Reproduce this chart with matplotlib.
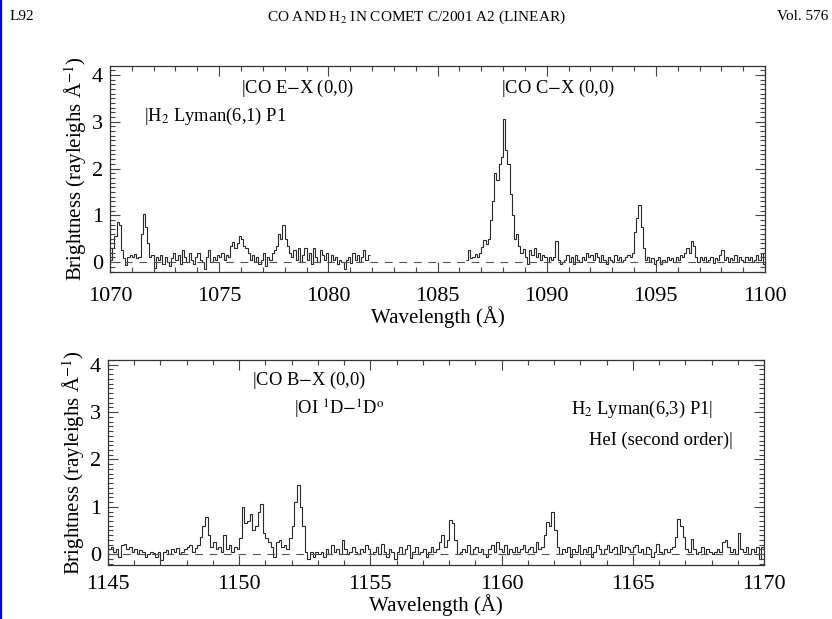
import matplotlib
matplotlib.use('Agg')
import numpy as np
import matplotlib.pyplot as plt
from matplotlib.ticker import MultipleLocator
from matplotlib.lines import Line2D

plt.rcParams['font.family'] = ['Liberation Serif', 'DejaVu Serif']
plt.rcParams['mathtext.fontset'] = 'stix'

BIN = 0.1  # Angstrom per spectral bin

# upper panel, first detector segment (1070.0 - 1081.9 A)
seg1_start = 1070.0
seg1_flux = [
    0.05, 0.3, 0.55, 0.85, 0.8, 0.25, 0.08, -0.06, 0.1, 0.15,
    0.12, 0.18, 0.08, 0.12, 0.6, 1.02, 0.75, 0.4, 0.1, 0.15,
    -0.12, 0.1, 0.05, 0.15, -0.05, 0.1, 0.0, -0.08, 0.08, 0.2,
    0.05, 0.15, -0.05, 0.25, 0.1, 0.0, 0.2, 0.05, -0.05, 0.1,
    0.2, 0.05, 0.0, -0.15, 0.1, 0.25, 0.0, 0.1, 0.05, 0.15,
    0.1, 0.2, 0.05, 0.15, 0.1, 0.35, 0.42, 0.3, 0.4, 0.55,
    0.5, 0.35, 0.3, 0.2, 0.05, 0.15, 0.0, 0.1, -0.05, 0.05,
    0.2, -0.08, 0.1, 0.05, 0.2, 0.25, 0.35, 0.6, 0.5, 0.8,
    0.5, 0.35, 0.2, 0.1, 0.25, 0.05, 0.3, 0.0, 0.15, 0.3,
    0.05, 0.2, -0.05, 0.3, 0.1, 0.0, 0.25, 0.15, 0.05, 0.2,
    0.0, 0.15, 0.05, 0.1, -0.05, 0.05, 0.0, -0.15, 0.05, 0.1,
    -0.02, 0.2, 0.05, 0.15, 0.0, 0.1, 0.25, 0.05, 0.15,
]

# upper panel, second segment (1086.3 - 1100.0 A)
seg2_start = 1086.3
seg2_flux = [
    0.05, 0.25, 0.08, 0.12, 0.18, 0.12, 0.2,
    0.32, 0.48, 0.38, 0.5, 0.9, 1.3, 1.9, 1.75, 2.1, 2.25,
    3.05, 2.4, 2.1, 1.45, 1.0, 0.5, 0.6, 0.35, 0.2, 0.28,
    0.1, -0.05, 0.25, 0.15, 0.3, 0.1, 0.2, 0.05, 0.15, 0.1,
    0.0, 0.1, 0.05, 0.1, 0.45, 0.05, -0.05, 0.0, 0.05, 0.15,
    0.0, 0.1, -0.03, 0.15, 0.05, 0.0, 0.1, 0.05, 0.2, 0.1,
    0.15, 0.05, 0.2, 0.1, 0.0, 0.15, 0.05, -0.03, 0.1, 0.05,
    0.0, 0.15, 0.05, 0.1, 0.0, 0.05, 0.1, 0.15, 0.1, 0.2,
    0.65, 0.95, 1.22, 0.75, 0.3, 0.05, 0.1, 0.0, 0.08, -0.05,
    0.05, 0.1, -0.05, 0.05, 0.0, 0.1, 0.05, 0.08, 0.0, 0.1,
    0.05, 0.15, 0.1, 0.2, 0.3, 0.2, 0.45, 0.35, 0.1, 0.0,
    0.1, 0.05, 0.12, 0.0, 0.05, 0.1, -0.02, 0.08, 0.05, 0.15,
    0.25, 0.05, 0.1, 0.0, 0.08, 0.05, 0.15, 0.0, 0.1, 0.05,
    0.0, 0.1, 0.05, 0.12, 0.0, 0.05, 0.15, 0.05, 0.2, -0.05,
]

# lower panel (1145.0 - 1170.0 A)
seg3_start = 1145.0
seg3_flux = [
    0.1, 0.15, 0.05, 0.1, -0.05, 0.2, 0.22, 0.1, 0.15, 0.05,
    0.1, 0.0, 0.08, 0.05, -0.05, 0.0, 0.05, 0.02, -0.05, 0.05,
    -0.12, 0.05, 0.08, 0.0, 0.1, 0.05, 0.12, 0.0, 0.05, 0.1,
    0.15, 0.2, 0.05, 0.12, 0.2, 0.37, 0.6, 0.78, 0.4, 0.15,
    0.25, 0.1, 0.15, 0.05, 0.4, 0.1, 0.2, 0.05, 0.15, 0.1,
    0.35, 1.0, 0.65, 0.7, 0.85, 0.5, 0.6, 0.9, 1.05, 0.45,
    0.35, 0.25, 0.15, -0.05, 0.25, 0.3, 0.15, 0.2, 0.1, 0.35,
    0.6, 1.1, 1.45, 1.0, 0.6, 0.05, -0.1, 0.05, -0.05, 0.05,
    0.0, 0.05, -0.05, 0.1, 0.0, 0.2, 0.05, 0.1, 0.0, 0.3,
    0.1, 0.0, 0.05, 0.15, 0.05, 0.0, 0.1, 0.05, 0.2, 0.1,
    0.0, 0.05, 0.15, 0.0, 0.22, 0.05, -0.05, 0.1, 0.05, -0.1,
    0.05, 0.15, 0.0, 0.1, 0.2, -0.08, 0.05, 0.15, 0.0, 0.05,
    0.1, -0.05, 0.05, 0.15, 0.05, 0.1, 0.25, 0.4, 0.15, 0.3,
    0.72, 0.65, 0.3, 0.0, 0.05, 0.1, 0.05, 0.2, 0.0, 0.1,
    0.15, 0.05, 0.1, 0.0, -0.05, 0.1, 0.2, 0.05, 0.25, 0.1,
    0.05, 0.2, 0.0, 0.1, 0.05, 0.15, 0.05, 0.1, 0.2, 0.05,
    0.1, 0.15, 0.05, 0.25, 0.1, 0.15, 0.4, 0.68, 0.6, 0.88,
    0.5, 0.15, 0.0, 0.1, 0.05, 0.15, -0.05, 0.1, 0.05, 0.2,
    0.0, 0.1, 0.05, 0.15, -0.05, 0.05, 0.2, 0.1, 0.0, 0.1,
    0.2, 0.05, 0.1, 0.15, 0.0, 0.2, 0.05, 0.15, 0.1, 0.05,
    0.15, 0.2, 0.05, 0.1, 0.0, 0.15, 0.1, -0.05, 0.05, 0.22,
    0.05, 0.0, 0.1, 0.05, 0.1, 0.15, 0.37, 0.75, 0.6, 0.37,
    0.1, 0.05, 0.33, 0.1, 0.0, 0.05, 0.15, 0.0, 0.1, 0.05,
    0.0, 0.05, 0.1, 0.05, 0.25, 0.3, 0.15, 0.05, 0.1, 0.0,
    0.45, 0.1, 0.05, 0.15, 0.0, 0.1, 0.05, 0.15, -0.1, 0.15,
]

# line identifications: (label, wavelength, brightness, alignment)
top_ids = [
    ('|CO E$-$X (0,0)', 1076.0, 3.72, 'left'),
    ('|H$_2$ Lyman(6,1) P1', 1071.55, 3.12, 'left'),
    ('|CO C$-$X (0,0)', 1087.9, 3.72, 'left'),
]
bottom_ids = [
    ('|CO B$-$X (0,0)', 1150.5, 3.66, 'left'),
    ('|OI $^1$D$-^1$D$^{\\rm o}$', 1152.1, 3.05, 'left'),
    ('H$_2$ Lyman(6,3) P1|', 1168.05, 3.05, 'right'),
    ('HeI (second order)|', 1168.8, 2.41, 'right'),
]


def edges(start, flux):
    return start + BIN * np.arange(len(flux) + 1)


def style_axes(ax, xlim, ylim, xpad):
    ax.set_xlim(*xlim)
    ax.set_ylim(*ylim)
    ax.xaxis.set_major_locator(MultipleLocator(5))
    ax.xaxis.set_minor_locator(MultipleLocator(1))
    ax.yaxis.set_major_locator(MultipleLocator(1))
    ax.yaxis.set_minor_locator(MultipleLocator(0.1))
    ax.tick_params(which='both', direction='in', top=True, right=True,
                   color='#444444', width=0.8)
    ax.tick_params(which='major', length=7, labelsize=16)
    ax.tick_params(axis='x', which='major', pad=xpad)
    ax.tick_params(axis='y', which='major', pad=5)
    ax.tick_params(which='minor', length=3.5)
    for s in ax.spines.values():
        s.set_linewidth(0.9)
        s.set_color('#333333')
    ax.set_xlabel('Wavelength (Å)', fontsize=15, labelpad=0)
    ax.set_ylabel('Brightness (rayleighs Å$^{-1}$)', fontsize=15, labelpad=2)
    ax.axhline(0, color='#555555', lw=0.8, dashes=(7, 6))


fig = plt.figure(figsize=(8.32, 6.19), dpi=100)

ax1 = fig.add_axes([0.1322, 0.5606, 0.7873, 0.3328])
ax1.stairs(seg1_flux, edges(seg1_start, seg1_flux), baseline=None,
           color='#2a2a2a', lw=0.8)
ax1.stairs(seg2_flux, edges(seg2_start, seg2_flux), baseline=None,
           color='#2a2a2a', lw=0.8)
style_axes(ax1, (1070, 1100), (-0.21, 4.19), 11)
for label, wl, b, ha in top_ids:
    ax1.text(wl, b, label, fontsize=13.3, ha=ha, va='center')

ax2 = fig.add_axes([0.1298, 0.0872, 0.7885, 0.3312])
ax2.stairs(seg3_flux, edges(seg3_start, seg3_flux), baseline=None,
           color='#2a2a2a', lw=0.8)
style_axes(ax2, (1145, 1170), (-0.23, 4.1), 7)
for label, wl, b, ha in bottom_ids:
    ax2.text(wl, b, label, fontsize=13.3, ha=ha, va='center')

# running head
fig.text(10 / 832, 1 - 17 / 619, 'L92', fontsize=11, ha='left', va='center')
fig.text(416 / 832, 1 - 17 / 619, 'CO AND H$_2$ IN COMET C/2001 A2 (LINEAR)',
         fontsize=11, ha='center', va='center')
fig.text(828 / 832, 1 - 17 / 619, 'Vol. 576', fontsize=11, ha='right', va='center')

# blue margin rule
fig.add_artist(Line2D([0.0012, 0.0012], [0, 1], transform=fig.transFigure,
                      color='#0000ff', lw=1.6))

fig.savefig('out.png', dpi=100)
